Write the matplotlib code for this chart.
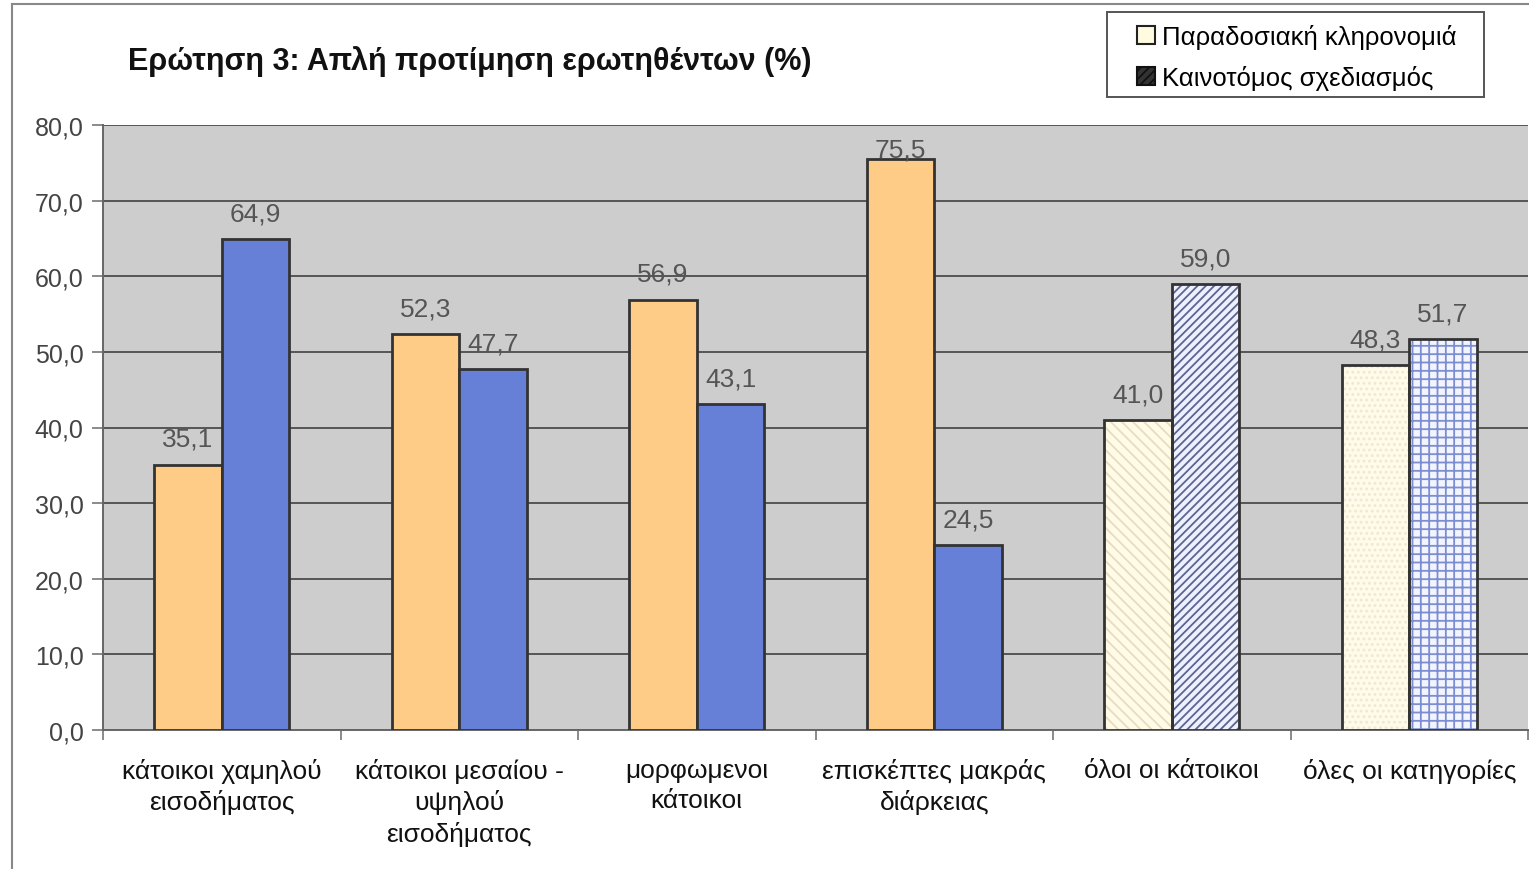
import matplotlib.pyplot as plt
from matplotlib.patches import Patch, Rectangle
from matplotlib.lines import Line2D
import numpy as np

plt.rcParams['font.family'] = ['Liberation Sans', 'DejaVu Sans']
plt.rcParams['hatch.linewidth'] = 1.3

categories = ['κάτοικοι χαμηλού\nεισοδήματος',
              'κάτοικοι μεσαίου -\nυψηλού\nεισοδήματος',
              'μορφωμενοι\nκάτοικοι',
              'επισκέπτες μακράς\nδιάρκειας',
              'όλοι οι κάτοικοι',
              'όλες οι κατηγορίες']
traditional = [35.1, 52.3, 56.9, 75.5, 41.0, 48.3]
innovative = [64.9, 47.7, 43.1, 24.5, 59.0, 51.7]
series_names = ['Παραδοσιακή κληρονομιά', 'Καινοτόμος σχεδιασμός']

# fill colour, hatch, hatch colour for each bar
trad_style = [('#ffcc88', None, None)] * 4 + [('#fffbe6', '\\\\\\', '#e6dcc0'),
                                             ('#fffbea', '...', '#f0e8d0')]
innov_style = [('#6680d8', None, None)] * 4 + [('#eef0ff', '////', '#5a6690'),
                                              ('#f2f4ff', '++', '#7d8ed0')]

W, H = 1529, 870
fig = plt.figure(figsize=(W / 100, H / 100), dpi=100)
ax = fig.add_axes([103 / W, 1 - 731 / H, 1 - 104 / W, (731 - 126) / H])
ax.set_facecolor('#cdcdcd')

x = np.arange(len(categories))
w = 0.285


def draw(xs, vals, styles):
    for xi, v, (fc, hatch, hc) in zip(xs, vals, styles):
        if hatch:
            ax.bar(xi, v, w, color=fc, hatch=hatch, edgecolor=hc, linewidth=0, zorder=3)
            ax.bar(xi, v, w, fill=False, edgecolor='#333333', linewidth=2, zorder=4)
        else:
            ax.bar(xi, v, w, color=fc, edgecolor='#333333', linewidth=2, zorder=3)
        ly = min(v + 3.4, 76.8)
        ax.text(xi, ly, ('%.1f' % v).replace('.', ','), ha='center', va='center',
                fontsize=19, color='#555555', zorder=5)


draw(x - w / 2, traditional, trad_style)
draw(x + w / 2, innovative, innov_style)

ax.set_xlim(-0.5, len(categories) - 0.5)
ax.set_ylim(0, 80)
ax.set_yticks(np.arange(0, 81, 10))
ax.set_yticklabels([('%.1f' % t).replace('.', ',') for t in np.arange(0, 81, 10)],
                   fontsize=18, color='#444444')
ax.yaxis.grid(True, color='#555555', linewidth=1.4, zorder=1)
ax.set_axisbelow(True)

ax.set_xticks(x)
ax.set_xticklabels(categories, fontsize=19, color='#111111', linespacing=1.32)
ax.tick_params(axis='x', which='major', length=0, pad=20)
ax.set_xticks(np.arange(-0.5, len(categories), 1), minor=True)
ax.tick_params(axis='x', which='minor', length=7, color='#777777', width=1.2)
ax.tick_params(axis='y', length=8, color='#777777', width=1.2, pad=6)

for s in ['top', 'right']:
    ax.spines[s].set_visible(False)
for s in ['left', 'bottom']:
    ax.spines[s].set_color('#666666')
    ax.spines[s].set_linewidth(1.4)

# outer chart frame
fig.add_artist(Line2D([12 / W, 12 / W], [0, 1 - 5 / H], color='#888888', lw=1.5))
fig.add_artist(Line2D([12 / W, 1], [1 - 5 / H, 1 - 5 / H], color='#888888', lw=1.5))

fig.text(128 / W, 1 - 62 / H, 'Ερώτηση 3: Απλή προτίμηση ερωτηθέντων (%)',
         fontsize=22, fontweight='bold', va='center', ha='left', color='#111111')

# legend box
fig.add_artist(Rectangle((1107 / W, 1 - 98 / H), (1484 - 1107) / W, 85 / H,
                         transform=fig.transFigure, facecolor='white',
                         edgecolor='#555555', linewidth=1.4, zorder=2))
handles = [Patch(facecolor='#fffbe0', edgecolor='#222222', linewidth=1.5),
           Patch(facecolor='#333333', edgecolor='#111111', hatch='////', linewidth=1.5)]
leg = fig.legend(handles, series_names, loc='center',
                 bbox_to_anchor=(1297 / W, 1 - 58 / H), fontsize=18.5,
                 frameon=False, handlelength=0.7, handleheight=0.7,
                 handletextpad=0.25, borderpad=0, labelspacing=0.65)
leg.set_zorder(3)

fig.savefig('out.png', dpi=100, facecolor='white')
